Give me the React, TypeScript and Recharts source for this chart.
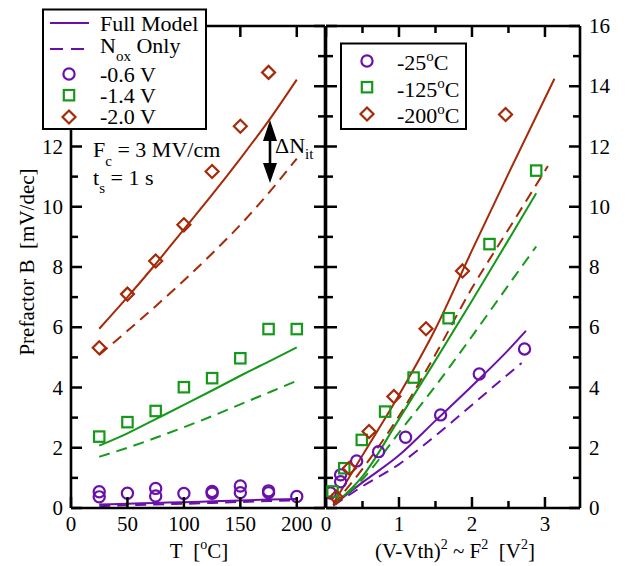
import React from 'react';
import { ComposedChart, Line, Scatter, XAxis, YAxis } from 'recharts';

const PURPLE = '#6a10aa';
const GREEN = '#16991a';
const RED = '#a52a08';
const FONT = '"Liberation Serif", "Times New Roman", serif';

// ---------- Left panel: B vs temperature ----------
const tempC = [25, 50, 75, 100, 125, 150, 175, 200];
const leftFullRed = [5.95, 7.0, 8.1, 9.25, 10.4, 11.6, 12.85, 14.22];
const leftNoxRed = [5.08, 5.88, 6.7, 7.55, 8.45, 9.4, 10.45, 11.6];
const leftFullGreen = [2.07, 2.48, 2.95, 3.42, 3.9, 4.39, 4.86, 5.33];
const leftNoxGreen = [1.7, 2.0, 2.33, 2.68, 3.05, 3.44, 3.83, 4.22];
const leftFullPurple = [0.12, 0.14, 0.17, 0.19, 0.22, 0.25, 0.28, 0.3];
const leftNoxPurple = [0.06, 0.09, 0.12, 0.14, 0.17, 0.2, 0.23, 0.26];

const diamondT = [25, 50, 75, 100, 125, 150, 175];
const diamondB = [5.32, 7.1, 8.2, 9.4, 11.17, 12.67, 14.46];
const squareT = [25, 50, 75, 100, 125, 150, 175, 200];
const squareB = [2.37, 2.85, 3.22, 4.01, 4.31, 4.97, 5.94, 5.94];
const circleT = [25, 25, 50, 75, 75, 100, 125, 125, 150, 150, 175, 175, 200];
const circleB = [0.54, 0.37, 0.49, 0.65, 0.4, 0.48, 0.55, 0.49, 0.73, 0.51, 0.57, 0.51, 0.38];

// ---------- Right panel: B vs (V-Vth)^2 ----------
const rCircleV = [0.06, 0.2, 0.2, 0.42, 0.72, 1.09, 1.57, 2.1, 2.72];
const rCircleB = [0.5, 0.87, 1.1, 1.56, 1.87, 2.35, 3.09, 4.45, 5.28];
const rSquareV = [0.09, 0.25, 0.49, 0.81, 1.2, 1.68, 2.24, 2.88];
const rSquareB = [0.55, 1.32, 2.26, 3.2, 4.33, 6.3, 8.76, 11.2];
const rDiamondV = [0.14, 0.32, 0.59, 0.93, 1.37, 1.87, 2.46];
const rDiamondB = [0.36, 1.32, 2.54, 3.7, 5.95, 7.87, 13.06];

const rPurpleFullV = [0.1, 0.5, 1.0, 1.5, 2.0, 2.5, 2.74];
const rPurpleFullB = [0.1, 0.85, 1.75, 2.9, 4.05, 5.25, 5.88];
const rPurpleNoxV = [0.1, 0.5, 1.0, 1.5, 2.0, 2.5, 2.68];
const rPurpleNoxB = [0.08, 0.72, 1.45, 2.4, 3.42, 4.45, 4.81];
const rGreenFullV = [0.15, 0.5, 1.0, 1.5, 2.0, 2.5, 2.88];
const rGreenFullB = [0.2, 1.05, 2.95, 4.9, 6.88, 8.9, 10.45];
const rGreenNoxV = [0.1, 0.5, 1.0, 1.5, 2.0, 2.5, 2.88];
const rGreenNoxB = [0.1, 0.95, 2.5, 4.05, 5.7, 7.4, 8.68];
const rRedFullV = [0.1, 0.5, 1.0, 1.5, 2.0, 2.5, 3.13];
const rRedFullB = [0.15, 1.75, 3.75, 5.95, 8.55, 11.1, 14.25];
const rRedNoxV = [0.1, 0.5, 1.0, 1.5, 2.0, 2.5, 3.04];
const rRedNoxB = [0.1, 1.3, 3.05, 5.1, 7.3, 9.25, 11.35];

// ---------- ticks ----------
const yTicks = [0, 1, 2, 3, 4, 5, 6, 7, 8, 9, 10, 11, 12, 13, 14, 15, 16];
const leftXTicks = [0, 50, 100, 150, 200];
const rightXTicks = [0, 0.5, 1, 1.5, 2, 2.5, 3];

const zip = (xs: number[], ys: number[]) => xs.map((x, i) => ({ x, y: ys[i] }));

const AX = { stroke: '#000', strokeWidth: 2.6 };
const TICK_W = 2.5;

const yTick = (side: 'left' | 'right', labels: boolean) => (props: any) => {
  const x = Number(props.x);
  const y = Number(props.y);
  const v = Number(props.payload.value);
  const major = v % 2 === 0;
  const len = major ? 11 : 7;
  const dir = side === 'left' ? 1 : -1;
  return (
    <g>
      <line x1={x} x2={x + dir * len} y1={y} y2={y} stroke="#000" strokeWidth={TICK_W} />
      {labels && major && (
        <text
          x={side === 'left' ? x - 8 : x + 9}
          y={y + 7}
          textAnchor={side === 'left' ? 'end' : 'start'}
          fontSize={21}
          fontFamily={FONT}
          fill="#000"
        >
          {v}
        </text>
      )}
    </g>
  );
};

const xTick = (side: 'top' | 'bottom', labels: boolean) => (props: any) => {
  const x = Number(props.x);
  const y = Number(props.y);
  const v = Number(props.payload.value);
  const major = v % 1 === 0;
  const len = major ? 11 : 7;
  const dir = side === 'bottom' ? -1 : 1;
  return (
    <g>
      <line x1={x} x2={x} y1={y} y2={y + dir * len} stroke="#000" strokeWidth={TICK_W} />
      {labels && major && (
        <text x={x} y={y + 23} textAnchor="middle" fontSize={21} fontFamily={FONT} fill="#000">
          {v}
        </text>
      )}
    </g>
  );
};

const CircleShape = (p: any) => (
  <circle cx={p.cx} cy={p.cy} r={5.6} fill="none" stroke={PURPLE} strokeWidth={2.2} />
);
const SquareShape = (p: any) => (
  <rect x={p.cx - 5.2} y={p.cy - 5.2} width={10.4} height={10.4} fill="none" stroke={GREEN} strokeWidth={2.2} />
);
const DiamondShape = (p: any) => (
  <polygon
    points={`${p.cx},${p.cy - 6.5} ${p.cx + 6.5},${p.cy} ${p.cx},${p.cy + 6.5} ${p.cx - 6.5},${p.cy}`}
    fill="none"
    stroke={RED}
    strokeWidth={2.2}
  />
);

const DASH = '11 7';

const lineProps = {
  type: 'monotone' as const,
  dataKey: 'y',
  dot: false,
  activeDot: false,
  strokeWidth: 2,
  isAnimationActive: false,
  xAxisId: 'b',
  yAxisId: 'l',
};

const Sup = ({ children, size = 14, up = 9 }: any) => (
  <tspan dy={-up} fontSize={size}>
    {children}
  </tspan>
);

const axisCommon = {
  type: 'number' as const,
  allowDataOverflow: true,
  interval: 0 as const,
  tickSize: 0,
  tickMargin: 0,
  tickLine: false,
  axisLine: AX,
};

export default function App() {
  return (
    <div style={{ position: 'absolute', left: 0, top: 0, width: 629, height: 566, background: '#fff' }}>
      {/* Left panel: plot area x 71..325, y 26..508 */}
      <div style={{ position: 'absolute', left: 0, top: 0 }}>
        <ComposedChart width={326} height={566} margin={{ top: 25, right: 0, bottom: 0, left: 0 }}>
          <XAxis {...axisCommon} xAxisId="b" dataKey="x" domain={[0, 225]} ticks={leftXTicks}
            orientation="bottom" height={58} tick={xTick('bottom', true)} />
          <XAxis {...axisCommon} xAxisId="t" dataKey="x" domain={[0, 225]} ticks={leftXTicks}
            orientation="top" height={1} tick={xTick('top', false)} />
          <YAxis {...axisCommon} yAxisId="l" dataKey="y" domain={[0, 16]} ticks={yTicks}
            orientation="left" width={71} tick={yTick('left', true)} />
          <YAxis {...axisCommon} yAxisId="r" dataKey="y" domain={[0, 16]} ticks={yTicks}
            orientation="right" width={1} tick={yTick('right', false)} />

          <Line {...lineProps} data={zip(tempC, leftFullRed)} stroke={RED} />
          <Line {...lineProps} data={zip(tempC, leftNoxRed)} stroke={RED} strokeDasharray={DASH} />
          <Line {...lineProps} data={zip(tempC, leftFullGreen)} stroke={GREEN} />
          <Line {...lineProps} data={zip(tempC, leftNoxGreen)} stroke={GREEN} strokeDasharray={DASH} />
          <Line {...lineProps} data={zip(tempC, leftNoxPurple)} stroke={PURPLE} strokeDasharray={DASH} />
          <Line {...lineProps} data={zip(tempC, leftFullPurple)} stroke={PURPLE} />

          <Scatter xAxisId="b" yAxisId="l" data={zip(circleT, circleB)} shape={CircleShape} isAnimationActive={false} />
          <Scatter xAxisId="b" yAxisId="l" data={zip(squareT, squareB)} shape={SquareShape} isAnimationActive={false} />
          <Scatter xAxisId="b" yAxisId="l" data={zip(diamondT, diamondB)} shape={DiamondShape} isAnimationActive={false} />
        </ComposedChart>
      </div>

      {/* Right panel: plot area x 326..580, y 26..508 */}
      <div style={{ position: 'absolute', left: 300, top: 0 }}>
        <ComposedChart width={329} height={566} margin={{ top: 25, right: 0, bottom: 0, left: 25 }}>
          <XAxis {...axisCommon} xAxisId="b" dataKey="x" domain={[0, 3.48]} ticks={rightXTicks}
            orientation="bottom" height={58} tick={xTick('bottom', true)} />
          <XAxis {...axisCommon} xAxisId="t" dataKey="x" domain={[0, 3.48]} ticks={rightXTicks}
            orientation="top" height={1} tick={xTick('top', false)} />
          <YAxis {...axisCommon} yAxisId="l" dataKey="y" domain={[0, 16]} ticks={yTicks}
            orientation="left" width={1} tick={yTick('left', false)} />
          <YAxis {...axisCommon} yAxisId="r" dataKey="y" domain={[0, 16]} ticks={yTicks}
            orientation="right" width={49} tick={yTick('right', true)} />

          <Line {...lineProps} data={zip(rPurpleNoxV, rPurpleNoxB)} stroke={PURPLE} strokeDasharray={DASH} />
          <Line {...lineProps} data={zip(rPurpleFullV, rPurpleFullB)} stroke={PURPLE} />
          <Line {...lineProps} data={zip(rGreenNoxV, rGreenNoxB)} stroke={GREEN} strokeDasharray={DASH} />
          <Line {...lineProps} data={zip(rRedNoxV, rRedNoxB)} stroke={RED} strokeDasharray={DASH} />
          <Line {...lineProps} data={zip(rGreenFullV, rGreenFullB)} stroke={GREEN} />
          <Line {...lineProps} data={zip(rRedFullV, rRedFullB)} stroke={RED} />

          <Scatter xAxisId="b" yAxisId="l" data={zip(rCircleV, rCircleB)} shape={CircleShape} isAnimationActive={false} />
          <Scatter xAxisId="b" yAxisId="l" data={zip(rSquareV, rSquareB)} shape={SquareShape} isAnimationActive={false} />
          <Scatter xAxisId="b" yAxisId="l" data={zip(rDiamondV, rDiamondB)} shape={DiamondShape} isAnimationActive={false} />
        </ComposedChart>
      </div>

      {/* Text, legends and annotations */}
      <svg width={629} height={566} style={{ position: 'absolute', left: 0, top: 0, pointerEvents: 'none' }}
        fontFamily={FONT} fill="#000">
        <text x={0} y={0} transform="translate(34,262) rotate(-90)" textAnchor="middle" fontSize={21}>
          {'Prefactor B\u00a0 [mV/dec]'}
        </text>

        <text x={199} y={558} textAnchor="middle" fontSize={21}>
          {'T\u00a0 ['}
          <Sup>o</Sup>
          <tspan dy={9}>C]</tspan>
        </text>
        <text x={455} y={558} textAnchor="middle" fontSize={21}>
          {'(V-Vth)'}
          <Sup>2</Sup>
          <tspan dy={9}>{' ~ F'}</tspan>
          <Sup>2</Sup>
          <tspan dy={9}>{'\u00a0 [V'}</tspan>
          <Sup>2</Sup>
          <tspan dy={9}>]</tspan>
        </text>

        {/* Left legend */}
        <rect x={43} y={9.5} width={163} height={119.5} fill="#fff" stroke="#000" strokeWidth={2} />
        <line x1={50} x2={89} y1={23} y2={23} stroke={PURPLE} strokeWidth={2} />
        <text x={100} y={31} fontSize={22}>Full Model</text>
        <line x1={50} x2={84} y1={49} y2={49} stroke={PURPLE} strokeWidth={2} strokeDasharray="13 8" />
        <text x={100} y={53} fontSize={22}>
          N
          <tspan dy={8} fontSize={15}>ox</tspan>
          <tspan dy={-8}>{'\u00a0Only'}</tspan>
        </text>
        <circle cx={69} cy={74} r={5.6} fill="none" stroke={PURPLE} strokeWidth={2.2} />
        <text x={100} y={82} fontSize={22}>-0.6 V</text>
        <rect x={63.8} y={90} width={10.4} height={10.4} fill="none" stroke={GREEN} strokeWidth={2.2} />
        <text x={100} y={103} fontSize={22}>-1.4 V</text>
        <polygon points="69,110.5 75.5,117 69,123.5 62.5,117" fill="none" stroke={RED} strokeWidth={2.2} />
        <text x={100} y={124} fontSize={22}>-2.0 V</text>

        {/* Right legend */}
        <rect x={341} y={43.5} width={125} height={85.5} fill="#fff" stroke="#000" strokeWidth={2} />
        <circle cx={367} cy={61} r={5.6} fill="none" stroke={PURPLE} strokeWidth={2.2} />
        <text x={397} y={70} fontSize={22}>
          -25<Sup size={15}>o</Sup>
          <tspan dy={9}>C</tspan>
        </text>
        <rect x={361.8} y={82} width={10.4} height={10.4} fill="none" stroke={GREEN} strokeWidth={2.2} />
        <text x={397} y={97} fontSize={22}>
          -125<Sup size={15}>o</Sup>
          <tspan dy={9}>C</tspan>
        </text>
        <polygon points="367,107.5 373.5,114 367,120.5 360.5,114" fill="none" stroke={RED} strokeWidth={2.2} />
        <text x={397} y={123} fontSize={22}>
          -200<Sup size={15}>o</Sup>
          <tspan dy={9}>C</tspan>
        </text>

        {/* Conditions */}
        <text x={93} y={157} fontSize={22}>
          F<tspan dy={9} fontSize={15}>c</tspan>
          <tspan dy={-9}>{' = 3 MV/cm'}</tspan>
        </text>
        <text x={93} y={185} fontSize={22}>
          t<tspan dy={8} fontSize={15}>s</tspan>
          <tspan dy={-8}>{' = 1 s'}</tspan>
        </text>

        {/* Delta N_it arrow */}
        <line x1={270} x2={270} y1={135} y2={168} stroke="#000" strokeWidth={2.6} />
        <polygon points="270,120 277,141 263,141" fill="#000" />
        <polygon points="270,183 277,163 263,163" fill="#000" />
        <text x={275} y={153} fontSize={22}>
          ΔN<tspan dy={6} fontSize={15}>it</tspan>
        </text>
      </svg>
    </div>
  );
}
